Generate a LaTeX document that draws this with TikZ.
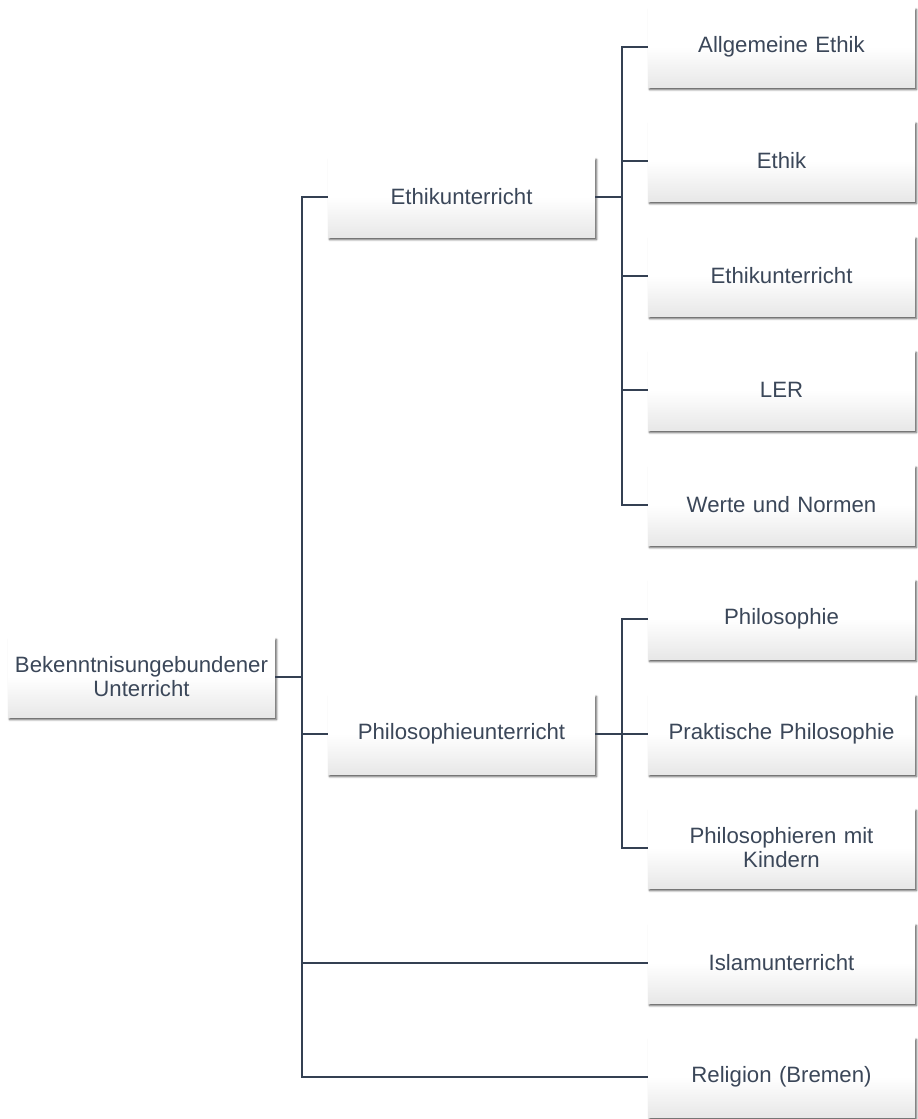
\documentclass[tikz,border=0pt]{standalone}
\usepackage{fontspec}
\setmainfont{Liberation Sans}
\usetikzlibrary{shadows.blur}
\definecolor{txt}{RGB}{59,71,89}
\definecolor{ln}{RGB}{52,64,82}
\pgfdeclareverticalshading{boxshade}{100bp}{color(0bp)=(black!18); color(12bp)=(black!14); color(50bp)=(white); color(100bp)=(white)}
\tikzset{
  box/.style={rectangle, minimum width=267pt, minimum height=80pt, inner sep=2pt,
    shading=boxshade, text=txt, align=center, text width=262pt,
    font=\fontsize{22.2}{24}\selectfont,
    blur shadow={shadow xshift=1.5pt, shadow yshift=-2.5pt, shadow blur radius=2pt, shadow opacity=70}},
  conn/.style={draw=ln, line width=1.6pt}
}
\begin{document}
\begin{tikzpicture}[x=1pt,y=-1pt]
\useasboundingbox (0,0) rectangle (918,1119);
\coordinate (bus) at (302,0);
\coordinate (busB) at (622,0);
\node[box] (root) at (141.5,677) {Bekenntnisungebundener\\Unterricht};
\node[box] (eth) at (461.5,197) {Ethikunterricht};
\node[box] (phil) at (461.5,734) {Philosophieunterricht};
\node[box] (e1) at (781.5,47) {Allgemeine Ethik};
\node[box] (e2) at (781.5,161) {Ethik};
\node[box] (e3) at (781.5,276) {Ethikunterricht};
\node[box] (e4) at (781.5,390) {LER};
\node[box] (e5) at (781.5,505) {Werte und Normen};
\node[box] (p1) at (781.5,619) {Philosophie};
\node[box] (p2) at (781.5,734) {Praktische Philosophie};
\node[box] (p3) at (781.5,848) {Philosophieren mit\\Kindern};
\node[box] (isl) at (781.5,963) {Islamunterricht};
\node[box] (rel) at (781.5,1077) {Religion (Bremen)};
\foreach \t in {eth,phil,isl,rel}
  \draw[conn] (root.east) -- (root.east -| bus) |- (\t.west);
\foreach \t in {e1,e2,e3,e4,e5}
  \draw[conn] (eth.east) -- (eth.east -| busB) |- (\t.west);
\foreach \t in {p1,p2,p3}
  \draw[conn] (phil.east) -- (phil.east -| busB) |- (\t.west);
\end{tikzpicture}
\end{document}
